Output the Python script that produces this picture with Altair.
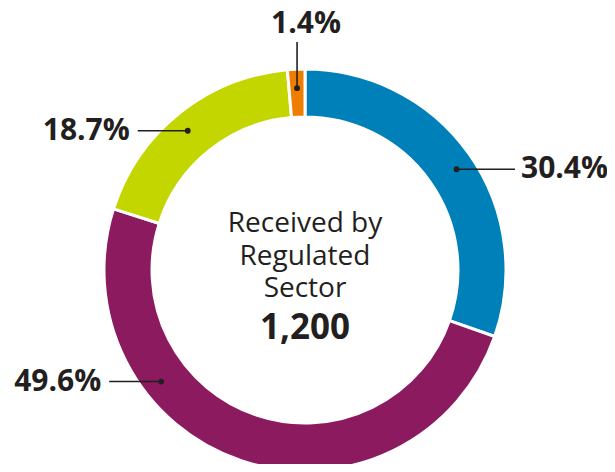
import math
import altair as alt
import pandas as pd

# ---- data ----
categories = ["A", "B", "C", "D"]
values = [30.4, 49.6, 18.7, 1.4]
labels = ["30.4%", "49.6%", "18.7%", "1.4%"]
colors = ["#0080B8", "#8C1A5F", "#C4D600", "#EE7D00"]
center_lines = ["Received by", "Regulated", "Sector"]
center_total = "1,200"

# ---- layout (pixels within plot area) ----
PAD_TOP = 10
CX, CY = 297, 262 - PAD_TOP
R_OUT, R_IN = 201, 153
R_DOT = 182
label_angle = [56.4, 232.2, 319.9, -2.5]   # where each leader line touches the ring
label_side = ["right", "left", "left", "top"]
FONT = "Open Sans"
INK = "#231f20"

df = pd.DataFrame({"cat": categories, "value": values, "idx": range(len(values))})

arc = alt.Chart(df).mark_arc(
    outerRadius=R_OUT, innerRadius=R_IN, stroke="white", strokeWidth=3
).encode(
    theta=alt.Theta("value:Q", stack=True),
    color=alt.Color("cat:N", scale=alt.Scale(domain=categories, range=colors), legend=None),
    order=alt.Order("idx:Q"),
    x=alt.value(CX),
    y=alt.value(CY),
)

rows = []
for lab, ang, side in zip(labels, label_angle, label_side):
    a = math.radians(ang)
    dx, dy = CX + R_DOT * math.sin(a), CY - R_DOT * math.cos(a)
    if side == "right":
        ex, ey, tx, ty = 507, dy, 513, dy
    elif side == "left":
        ex, ey = dx - (50 if ang > 300 else 52), dy
        tx, ty = ex - 8, dy
    else:
        ex, ey, tx, ty = dx, 34 - PAD_TOP, CX + 1, 25 - PAD_TOP
    rows.append(dict(label=lab, dx=dx, dy=dy, ex=ex, ey=ey, tx=tx, ty=ty, side=side))
ldf = pd.DataFrame(rows)

xs = lambda f: alt.X(f"{f}:Q", scale=None, axis=None)
ys = lambda f: alt.Y(f"{f}:Q", scale=None, axis=None)

rules = alt.Chart(ldf).mark_rule(color=INK, strokeWidth=1.6).encode(
    x=xs("dx"), y=ys("dy"), x2="ex:Q", y2="ey:Q"
)
dots = alt.Chart(ldf).mark_circle(color=INK, opacity=1, size=34).encode(
    x=xs("dx"), y=ys("dy")
)

def label_layer(side, align, baseline):
    return alt.Chart(ldf).transform_filter(alt.datum.side == side).mark_text(
        font=FONT, fontSize=30, fontWeight="bold", color=INK, align=align, baseline=baseline
    ).encode(x=xs("tx"), y=ys("ty"), text="label:N")

t_right = label_layer("right", "left", "middle")
t_left = label_layer("left", "right", "middle")
t_top = label_layer("top", "center", "alphabetic")

cdf = pd.DataFrame({"line": center_lines, "i": range(len(center_lines))})
cdf["y"] = 224 - PAD_TOP + 32.5 * cdf["i"]
center = alt.Chart(cdf).mark_text(
    font=FONT, fontSize=28, color=INK, align="center", baseline="alphabetic"
).encode(x=alt.value(CX), y=ys("y"), text="line:N")

tdf = pd.DataFrame({"t": [center_total], "y": [331 - PAD_TOP]})
total = alt.Chart(tdf).mark_text(
    font=FONT, fontSize=35, fontWeight="bold", color=INK, align="center", baseline="alphabetic"
).encode(x=alt.value(CX), y=ys("y"), text="t:N")

chart = alt.layer(arc, rules, dots, t_right, t_left, t_top, center, total).properties(
    width=599, height=456 - PAD_TOP, autosize=alt.AutoSizeParams(type="none"),
    padding={"top": PAD_TOP, "left": 0, "right": 0, "bottom": 0}
).configure_view(stroke=None)

chart.save("out.html", embed_options={"renderer": "svg", "actions": False})
